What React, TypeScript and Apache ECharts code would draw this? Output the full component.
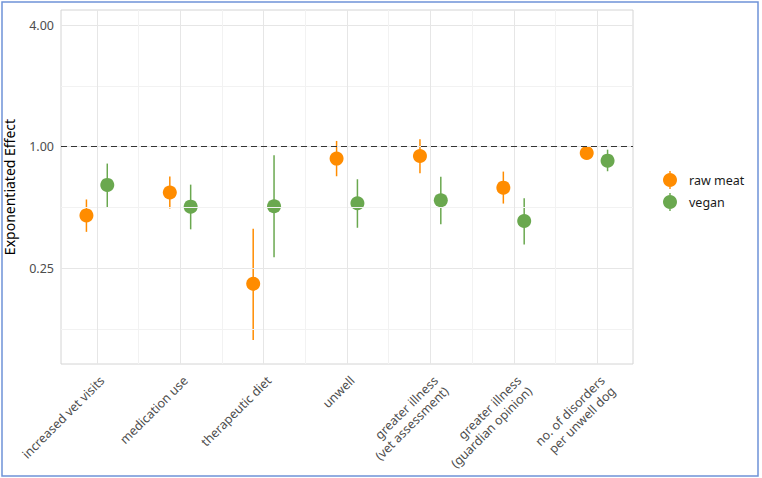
import React, { useEffect, useRef } from "react";
import * as echarts from "echarts";

const categories = [
  "increased vet visits",
  "medication use",
  "therapeutic diet",
  "unwell",
  "greater illness\n(vet assessment)",
  "greater illness\n(guardian opinion)",
  "no. of disorders\nper unwell dog",
];

const rawEst = [0.456, 0.592, 0.209, 0.872, 0.899, 0.626, 0.93];
const rawLo = [0.378, 0.493, 0.11, 0.713, 0.738, 0.522, 0.89];
const rawHi = [0.547, 0.71, 0.392, 1.067, 1.087, 0.752, 0.97];

const veganEst = [0.646, 0.504, 0.506, 0.524, 0.542, 0.428, 0.852];
const veganLo = [0.502, 0.389, 0.283, 0.396, 0.412, 0.327, 0.755];
const veganHi = [0.824, 0.648, 0.906, 0.689, 0.708, 0.554, 0.966];

const yMajorTicks = [0.25, 1, 4];
const yMinorTicks = [0.125, 0.5, 2];
const referenceValue = 1;

const seriesNames = ["raw meat", "vegan"];
const colors = ["#ff8c00", "#6aa84f"];
const dodge = 0.125;

const legendIcon =
  "path://M6.3,0h1.4v2.1h-1.4Z M6.3,15.9h1.4v2.1h-1.4Z M7,2A7,7 0 1 1 6.999,2Z";

export default function App() {
  const ref = useRef<HTMLDivElement>(null);

  useEffect(() => {
    if (!ref.current) return;
    const chart = echarts.init(ref.current, undefined, { renderer: "svg" });
    const l2 = (v: number) => Math.log2(v);

    const groups = [
      { est: rawEst, lo: rawLo, hi: rawHi, off: -dodge },
      { est: veganEst, lo: veganLo, hi: veganHi, off: dodge },
    ];

    const gridLines: any[] = [];
    yMinorTicks.forEach((v) =>
      gridLines.push({ yAxis: l2(v), lineStyle: { color: "#f2f2f2", width: 1, type: "solid" } })
    );
    yMajorTicks.forEach((v) =>
      gridLines.push({ yAxis: l2(v), lineStyle: { color: "#e6e6e6", width: 1, type: "solid" } })
    );
    categories.forEach((_, i) => {
      if (i > 0)
        gridLines.push({ xAxis: i + 0.5, lineStyle: { color: "#f2f2f2", width: 1, type: "solid" } });
      gridLines.push({ xAxis: i + 1, lineStyle: { color: "#e6e6e6", width: 1, type: "solid" } });
    });

    const series: any[] = [
      {
        type: "line",
        name: "grid",
        data: [],
        silent: true,
        z: 0,
        markLine: {
          silent: true,
          symbol: "none",
          label: { show: false },
          animation: false,
          data: gridLines,
        },
      },
      {
        type: "line",
        name: "ref",
        data: [],
        silent: true,
        z: 1,
        markLine: {
          silent: true,
          symbol: "none",
          label: { show: false },
          animation: false,
          data: [{ yAxis: l2(referenceValue), lineStyle: { color: "#333333", width: 1.2, type: [6, 4] } }],
        },
      },
    ];

    groups.forEach((g, gi) => {
      series.push({
        type: "custom",
        name: seriesNames[gi] + " interval",
        z: 2,
        data: g.lo.map((lo, i) => [i + 1 + g.off, l2(lo), l2(g.hi[i])]),
        renderItem: (params: any, api: any) => {
          const p1 = api.coord([api.value(0), api.value(1)]);
          const p2 = api.coord([api.value(0), api.value(2)]);
          return {
            type: "line",
            shape: { x1: p1[0], y1: p1[1], x2: p2[0], y2: p2[1] },
            style: { stroke: colors[gi], lineWidth: 1.5 },
          };
        },
      });
    });

    groups.forEach((g, gi) => {
      series.push({
        type: "scatter",
        name: seriesNames[gi],
        z: 3,
        symbol: "circle",
        symbolSize: 14,
        itemStyle: { color: colors[gi], opacity: 1 },
        data: g.est.map((v, i) => [i + 1 + g.off, l2(v)]),
      });
    });

    chart.setOption({
      animation: false,
      graphic: [
        {
          type: "rect",
          shape: { x: 2, y: 2, width: 756, height: 474 },
          style: { fill: "none", stroke: "#6f93d8", lineWidth: 1.5 },
          z: 100,
        },
      ],
      grid: {
        left: 61,
        top: 10,
        right: 129,
        bottom: 114,
        containLabel: false,
        outerBoundsMode: "none",
        show: true,
        borderColor: "#d4d4d4",
        borderWidth: 1,
        backgroundColor: "transparent",
      },
      legend: {
        orient: "vertical",
        left: 663,
        top: 171,
        padding: 0,
        itemWidth: 14,
        itemHeight: 18,
        itemGap: 4,
        data: seriesNames.map((n) => ({ name: n, icon: legendIcon })),
        textStyle: {
          fontFamily: "Noto Sans",
          fontSize: 12.5,
          color: "#1a1a1a",
          padding: [0, 0, 0, 7],
        },
      },
      xAxis: {
        type: "value",
        min: 0.57,
        max: 7.43,
        axisLine: { show: false },
        axisTick: { show: false },
        splitLine: { show: false },
        axisLabel: {
          customValues: categories.map((_, i) => i + 1),
          formatter: (v: number) => categories[Math.round(v) - 1] ?? "",
          rotate: 45,
          align: "right",
          verticalAlign: "top",
          margin: 9,
          fontFamily: "Noto Sans",
          fontSize: 12.5,
          color: "#4d4d4d",
          lineHeight: 15,
        },
      },
      yAxis: {
        type: "value",
        min: -3.58,
        max: 2.25,
        name: "Exponentiated Effect",
        nameLocation: "middle",
        nameGap: 45,
        nameTextStyle: { fontFamily: "Noto Sans", fontSize: 14, color: "#000000" },
        axisLine: { show: false },
        axisTick: { show: false },
        splitLine: { show: false },
        axisLabel: {
          customValues: yMajorTicks.map((v) => l2(v)),
          formatter: (v: number) => Math.pow(2, v).toFixed(2),
          margin: 7,
          fontFamily: "Noto Sans",
          fontSize: 12.5,
          color: "#4d4d4d",
        },
      },
      series,
    });

    return () => chart.dispose();
  }, []);

  return (
    <div
      ref={ref}
      style={{ position: "fixed", left: 0, top: 0, width: 762, height: 478, background: "#ffffff" }}
    />
  );
}
